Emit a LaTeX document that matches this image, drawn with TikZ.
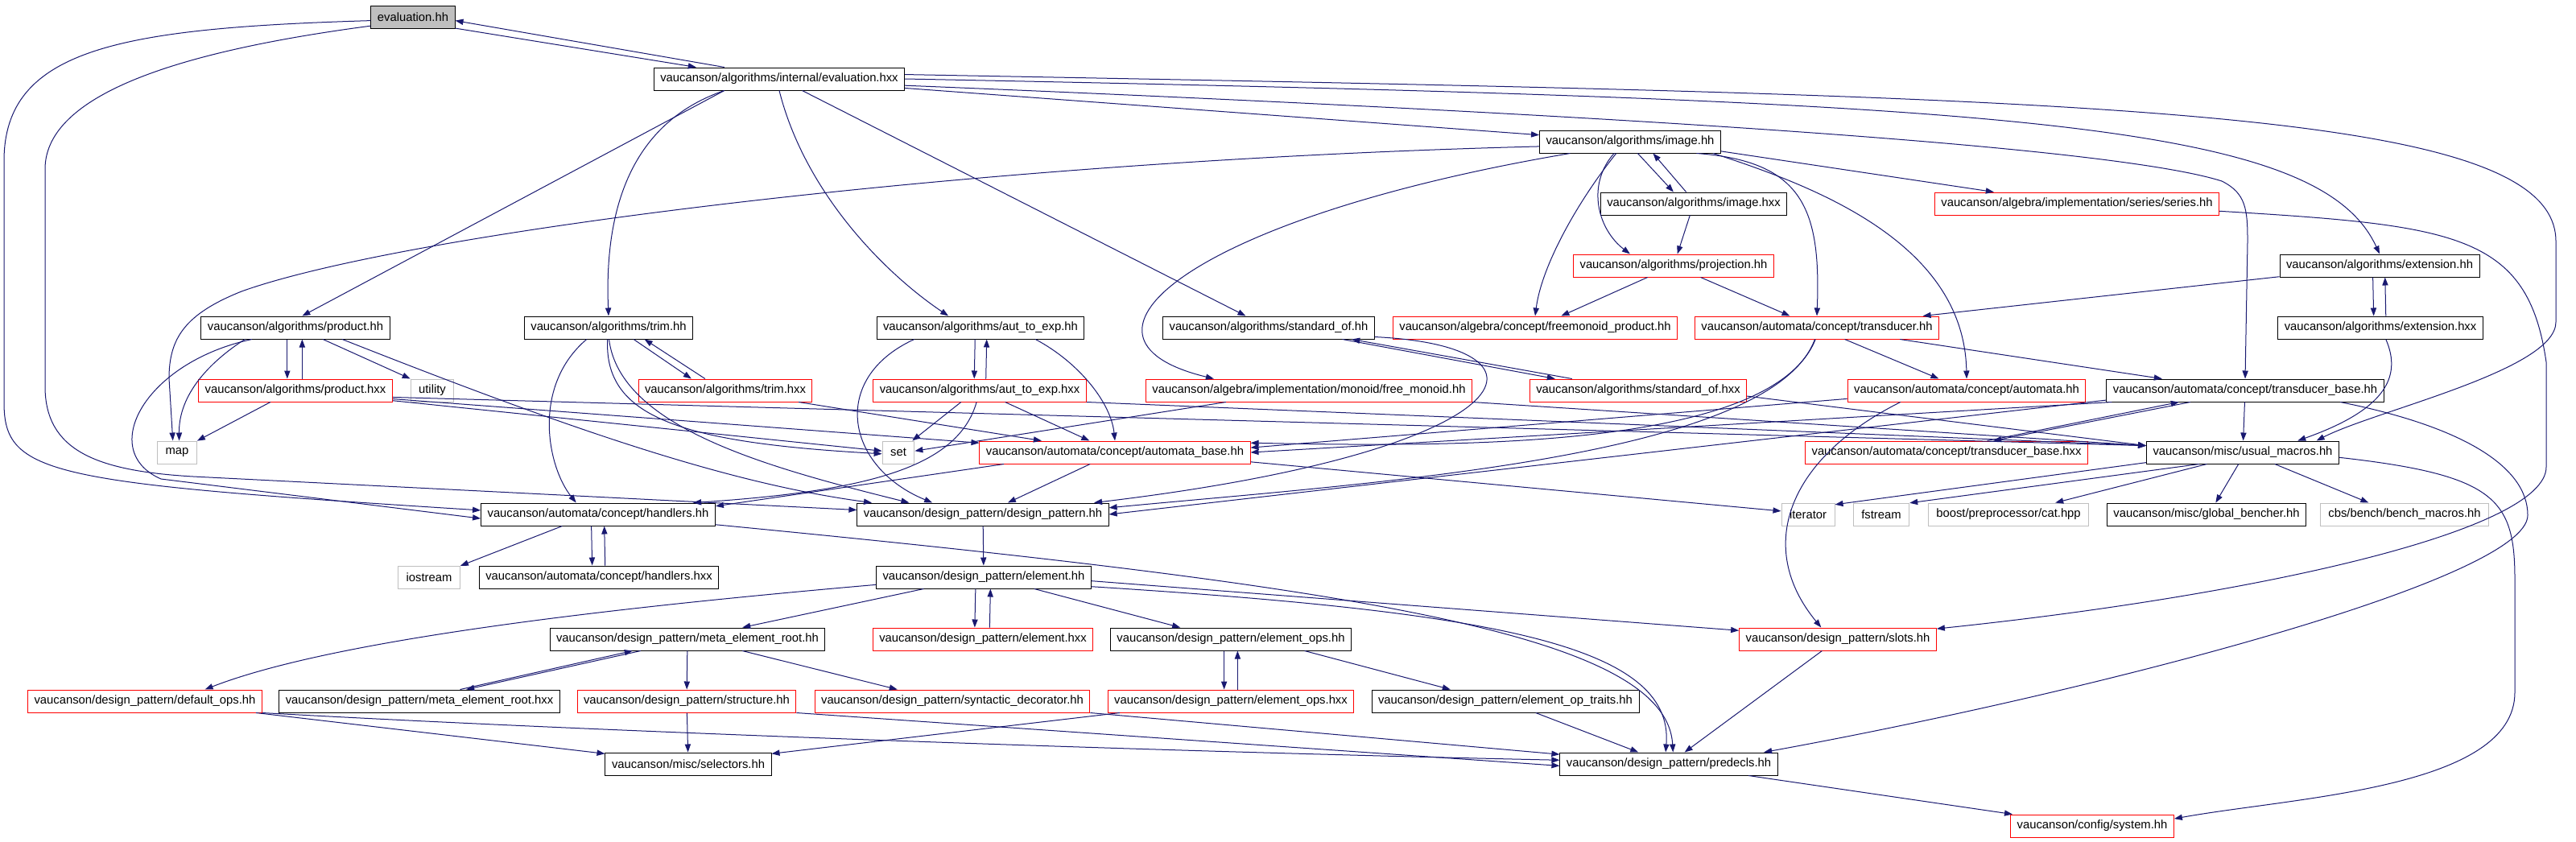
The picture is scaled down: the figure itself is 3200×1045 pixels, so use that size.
\documentclass[tikz,border=0pt]{standalone}
\usepackage{fontspec}
\setmainfont{Liberation Sans}
\usepackage{tikz}
\usetikzlibrary{arrows.meta}
\definecolor{edgeblue}{RGB}{25,25,112}
\definecolor{boxgrey}{RGB}{191,191,191}

\begin{document}
\begin{tikzpicture}[
          x=0.5pt,y=-0.5pt,
          filebox/.style={draw=black,line width=0.5pt,fill=white,inner xsep=4pt,inner ysep=0pt,
            minimum height=14pt,font=\fontsize{7.4}{8}\selectfont},
          missbox/.style={filebox,draw=red},
          sysbox/.style={filebox,draw=boxgrey,inner xsep=5pt},
          edge/.style={draw=edgeblue,line width=0.5pt,-{Triangle[length=5pt,width=3.6pt]}}
          ]
          \useasboundingbox (0,0) rectangle (3200,1045);
          % the header that is documented
          \node[filebox,fill=boxgrey] (evh) at (513,21) {evaluation.hh};
          % the headers that are documented too
          \foreach \n/\x/\y/\t in {
              evx/968/98/{vaucanson/algorithms/internal/evaluation.hxx},
              img/2025/176/{vaucanson/algorithms/image.hh},
              imgx/2104/253/{vaucanson/algorithms/image.hxx},
              ext/2956/330/{vaucanson/algorithms/extension.hh},
              prod/367/407/{vaucanson/algorithms/product.hh},
              trim/756/407/{vaucanson/algorithms/trim.hh},
              a2e/1218/407/{vaucanson/algorithms/aut\_to\_exp.hh},
              stdof/1576/407/{vaucanson/algorithms/standard\_of.hh},
              extx/2957/407/{vaucanson/algorithms/extension.hxx},
              tb/2789/485/{vaucanson/automata/concept/transducer\_base.hh},
              um/2786/562/{vaucanson/misc/usual\_macros.hh},
              hand/743/639/{vaucanson/automata/concept/handlers.hh},
              dp/1221/639/{vaucanson/design\_pattern/design\_pattern.hh},
              gb/2741/639/{vaucanson/misc/global\_bencher.hh},
              handx/744/717/{vaucanson/automata/concept/handlers.hxx},
              elem/1222/717/{vaucanson/design\_pattern/element.hh},
              mer/854/794/{vaucanson/design\_pattern/meta\_element\_root.hh},
              eops/1529/794/{vaucanson/design\_pattern/element\_ops.hh},
              merx/521/871/{vaucanson/design\_pattern/meta\_element\_root.hxx},
              eot/1870/871/{vaucanson/design\_pattern/element\_op\_traits.hh},
              sel/855/949/{vaucanson/misc/selectors.hh},
              pre/2073/949/{vaucanson/design\_pattern/predecls.hh}}
            \node[filebox] (\n) at (\x,\y) {\t};
          % the headers without documentation
          \foreach \n/\x/\y/\t in {
              proj/2079/330/{vaucanson/algorithms/projection.hh},
              ser/2580/253/{vaucanson/algebra/implementation/series/series.hh},
              prodx/367/485/{vaucanson/algorithms/product.hxx},
              trimx/901/485/{vaucanson/algorithms/trim.hxx},
              a2ex/1217/485/{vaucanson/algorithms/aut\_to\_exp.hxx},
              fmp/1907/407/{vaucanson/algebra/concept/freemonoid\_product.hh},
              trans/2257/407/{vaucanson/automata/concept/transducer.hh},
              fm/1626/485/{vaucanson/algebra/implementation/monoid/free\_monoid.hh},
              stdofx/2035/485/{vaucanson/algorithms/standard\_of.hxx},
              aut/2443/485/{vaucanson/automata/concept/automata.hh},
              ab/1385/562/{vaucanson/automata/concept/automata\_base.hh},
              tbx/2418/562/{vaucanson/automata/concept/transducer\_base.hxx},
              elemx/1221/794/{vaucanson/design\_pattern/element.hxx},
              slots/2283/794/{vaucanson/design\_pattern/slots.hh},
              defops/180/871/{vaucanson/design\_pattern/default\_ops.hh},
              struc/853/871/{vaucanson/design\_pattern/structure.hh},
              syn/1183/871/{vaucanson/design\_pattern/syntactic\_decorator.hh},
              eopsx/1529/871/{vaucanson/design\_pattern/element\_ops.hxx},
              sys/2599/1026/{vaucanson/config/system.hh}}
            \node[missbox] (\n) at (\x,\y) {\t};
          % the system headers
          \foreach \n/\x/\y/\t in {util/537/485/utility, map/220/562/map, set/1116/562/set,
              iter/2246/639/iterator, fstr/2337/639/fstream,
              boost/2495/639/{boost/preprocessor/cat.hpp},
              bm/2987/639/{cbs/bench/bench\_macros.hh}, iostr/533/717/iostream}
            \node[sysbox] (\n) at (\x,\y) {\t};

          % the includes of evaluation.hh
          \draw[edge] (evh.-15) -- (evx.172);
          \draw[edge] (evx.168) -- (evh.-5);
          \draw[edge] (evh.185) .. controls (150,35) and (5,60) .. (5,200) -- (5,500)
            .. controls (5,590) and (60,600) .. (hand.178);
          \draw[edge] (evh.192) .. controls (250,60) and (56,110) .. (56,210) -- (56,480)
            .. controls (56,560) and (120,585) .. (240,592) -- (dp.178);
          % the includes of evaluation.hxx
          \draw[edge] (evx.192) -- (prod.60);
          \draw[edge] (evx.192) .. controls (790,150) and (750,250) .. (trim.north);
          \draw[edge] (evx.south) .. controls (1000,240) and (1100,340) .. (a2e.160);
          \draw[edge] (evx) -- (stdof);
          \draw[edge] (evx) -- (img);
          \draw[edge] (evx.east) .. controls (2500,125) and (2880,150) .. (ext.north);
          \draw[edge] (evx.2) .. controls (2600,120) and (3175,130) .. (3175,300) -- (3175,400)
            .. controls (3175,460) and (2950,510) .. (um.9);
          \draw[edge] (evx.-3) .. controls (2200,150) and (2650,190) .. (2760,225)
            .. controls (2790,240) and (2792,260) .. (2792,300) -- (tb.north);
          % image
          \draw[edge] (img.-57) -- (imgx.150);
          \draw[edge] (imgx.123) -- (img.-27);
          \draw[edge] (img.-144) .. controls (1970,230) and (1985,285) .. (proj.165);
          \draw[edge] (imgx) -- (proj);
          \draw[edge] (img.-140) .. controls (1960,250) and (1915,330) .. (fmp.north);
          \draw[edge] (proj) -- (fmp);
          \draw[edge] (proj) -- (trans);
          \draw[edge] (img.-10) .. controls (2240,200) and (2262,260) .. (trans.north);
          \draw[edge] (img.-8) .. controls (2250,230) and (2440,300) .. (aut.north);
          \draw[edge] (img.-6) -- (ser.172);
          \draw[edge] (img.183) .. controls (1200,200) and (500,290) .. (300,362)
            .. controls (230,390) and (210,420) .. (210,470) -- (map.110);
          \draw[edge] (img.-169) .. controls (1480,270) and (1300,420) .. (fm.173);
          % extension
          \draw[edge] (ext) -- (trans);
          \draw[edge] (ext.-120) -- (extx.120);
          \draw[edge] (extx.65) -- (ext.-65);
          \draw[edge] (extx.-65) .. controls (2985,470) and (2960,510) .. (um.12);
          % transducers
          \draw[edge] (tb) -- (um);
          \draw[edge] (tb.-168) -- (tbx.14);
          \draw[edge] (tbx.16) -- (tb.-170);
          \draw[edge] (tb.-175) -- (ab.0);
          \draw[edge] (tb.-176) -- (dp.0);
          \draw[edge] (tb.-7) .. controls (3060,530) and (3140,580) .. (3140,640)
            .. controls (3140,720) and (2600,860) .. (pre.7);
          \draw[edge] (trans) -- (aut);
          \draw[edge] (trans.-8) -- (tb.172);
          \draw[edge] (trans.-97) .. controls (2200,560) and (1800,555) .. (ab.4);
          \draw[edge] (trans.-100) .. controls (2200,570) and (1700,600) .. (dp.3);
          \draw[edge] (aut.-176) -- (ab.2);
          \draw[edge] (aut.-170) .. controls (2220,570) and (2180,680) .. (slots.145);
          \draw[edge] (ser.-3) .. controls (3050,280) and (3140,290) .. (3163,450) -- (3163,580)
            .. controls (3163,660) and (2800,740) .. (slots.6);
          % automata
          \draw[edge] (ab.-174) -- (hand.4);
          \draw[edge] (ab) -- (dp);
          \draw[edge] (ab.-4) -- (iter.173);
          \draw[edge] (a2e.-115) -- (a2ex.115);
          \draw[edge] (a2ex.62) -- (a2e.-62);
          \draw[edge] (a2e.-170) .. controls (1030,470) and (1050,580) .. (dp.167);
          \draw[edge] (a2e.-12) .. controls (1340,450) and (1380,500) .. (ab.north);
          \draw[edge] (a2ex.-148) -- (set.40);
          \draw[edge] (a2ex) -- (ab);
          \draw[edge] (a2ex.-105) .. controls (1190,580) and (1080,610) .. (hand.7);
          \draw[edge] (a2ex.south east) -- (um.176);
          \draw[edge] (trim.-25) -- (trimx.161);
          \draw[edge] (trimx.150) -- (trim.-18);
          \draw[edge] (trim.-152) .. controls (660,480) and (680,580) .. (hand.152);
          \draw[edge] (trim.-95) .. controls (750,520) and (850,550) .. (set.185);
          \draw[edge] (trim.-88) .. controls (770,530) and (950,580) .. (dp.171);
          \draw[edge] (trimx) -- (ab);
          \draw[edge] (prod.-125) -- (prodx.125);
          \draw[edge] (prodx.60) -- (prod.-60);
          \draw[edge] (prod.-23) -- (util.152);
          \draw[edge] (prod.-167) .. controls (260,450) and (222,490) .. (map.80);
          \draw[edge] (prod.-165) .. controls (180,450) and (120,560) .. (200,595) -- (hand.182);
          \draw[edge] (prod.-14) .. controls (700,530) and (900,600) .. (dp.174);
          \draw[edge] (prodx.-155) -- (map.30);
          \draw[edge] (prodx.-6) -- (set.175);
          \draw[edge] (prodx.-5) -- (ab.176);
          \draw[edge] (prodx.-4) -- (um.176);
          \draw[edge] (stdof.-9) -- (stdofx.172);
          \draw[edge] (stdofx.170) -- (stdof.-8);
          \draw[edge] (stdof.-5) .. controls (1950,430) and (1900,560) .. (dp.6);
          \draw[edge] (stdofx.-3) -- (um.176);
          \draw[edge] (fm.-172) -- (set.5);
          \draw[edge] (fm.south east) -- (um.176);
          % usual macros
          \draw[edge] (um.-174) -- (iter.20);
          \draw[edge] (um.-165) -- (fstr.22);
          \draw[edge] (um.-162) -- (boost.14);
          \draw[edge] (um.-110) -- (gb.52);
          \draw[edge] (um.-20) -- (bm.162);
          \draw[edge] (um.-3) .. controls (3100,590) and (3124,620) .. (3124,720) -- (3124,860)
            .. controls (3124,980) and (2850,990) .. (sys.5);
          % design pattern
          \draw[edge] (hand.-120) -- (handx.120);
          \draw[edge] (handx.62) -- (hand.-62);
          \draw[edge] (hand.-162) -- (iostr.20);
          \draw[edge] (hand.-5) .. controls (1700,730) and (2070,790) .. (pre.70);
          \draw[edge] (dp) -- (elem);
          \draw[edge] (elem.-125) -- (elemx.125);
          \draw[edge] (elemx.60) -- (elem.-60);
          \draw[edge] (elem.-169) -- (mer.12);
          \draw[edge] (elem.-176) .. controls (700,760) and (400,800) .. (defops.11);
          \draw[edge] (elem.-13) -- (eops.167);
          \draw[edge] (elem.-2) -- (slots.175);
          \draw[edge] (elem.-5) .. controls (1850,760) and (2080,800) .. (pre.105);
          \draw[edge] (mer) -- (struc);
          \draw[edge] (mer.-12) -- (syn.168);
          \draw[edge] (mer.-166) -- (merx.14);
          \draw[edge] (merx.16) -- (mer.-168);
          \draw[edge] (struc) -- (sel);
          \draw[edge] (struc.south east) -- (pre.181);
          \draw[edge] (defops.-6) -- (sel.173);
          \draw[edge] (defops.south east) .. controls (800,912) and (1500,935) .. (pre.178);
          \draw[edge] (syn.south east) -- (pre.175);
          \draw[edge] (eopsx.-174) -- (sel.7);
          \draw[edge] (eops.-120) -- (eopsx.120);
          \draw[edge] (eopsx.60) -- (eops.-60);
          \draw[edge] (eops.-9) -- (eot.168);
          \draw[edge] (eot) -- (pre);
          \draw[edge] (slots) -- (pre);
          \draw[edge] (pre) -- (sys);
        \end{tikzpicture}
\end{document}
